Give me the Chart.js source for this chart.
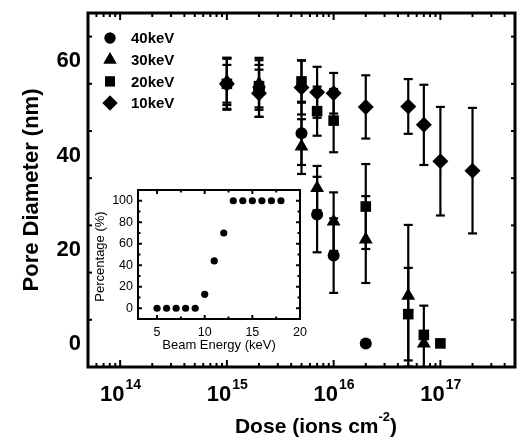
<!DOCTYPE html>
<html>
<head>
<meta charset="utf-8">
<script src="https://cdn.jsdelivr.net/npm/chart.js@4.4.0/dist/chart.umd.min.js"></script>
<style>
  html, body { margin: 0; padding: 0; background: #fff; }
  #wrap { position: relative; width: 523px; height: 440px; }
  #main { position: absolute; left: 0; top: 0; }
  #inset { position: absolute; left: 85px; top: 182px; }
</style>
</head>
<body>
<div id="wrap">
  <canvas id="main" width="523" height="440"></canvas>
  <canvas id="inset" width="222" height="170"></canvas>
</div>
<script>
// pore diameter (nm) vs dose, one set per beam energy
const doses40 = [1e15, 2e15, 5e15, 7e15, 1e16, 2e16];
const pore40 = [55, 54, 44.5, 27.3, 18.6, 0];
const err40 = [5.5, 6, 6.7, 8, 7.9, 0];

const doses30 = [1e15, 2e15, 5e15, 7e15, 1e16, 2e16, 5e16, 7e16];
const pore30 = [55.5, 55, 41.7, 32.9, 25.8, 22, 10.1, 0];
const err30 = [5, 5.5, 5.8, 4.7, 6.2, 9.2, 15, 8];

const doses20 = [1e15, 2e15, 5e15, 7e15, 1e16, 2e16, 5e16, 7e16, 1e17];
const pore20 = [55, 54.5, 55.5, 49.2, 47.2, 29, 6.2, 1.8, 0];
const err20 = [5.3, 4.5, 4.5, 5.2, 6.7, 9, 9.8, 0, 0];

const doses10 = [1e15, 2e15, 5e15, 7e15, 1e16, 2e16, 5e16, 7e16, 1e17, 2e17];
const pore10 = [55, 53, 54.2, 53.2, 53, 50.1, 50.2, 46.3, 38.6, 36.6];
const err10 = [4, 5, 5.7, 5.4, 4.3, 6.7, 5.8, 8.5, 11.5, 13.3];

const seriesLabels = ['40keV', '30keV', '20keV', '10keV'];
const yTickLabels = [0, 20, 40, 60];
const xTickPowers = [14, 15, 16, 17];

// inset: percentage vs beam energy
const insetEnergy = [5, 6, 7, 8, 9, 10, 11, 12, 13, 14, 15, 16, 17, 18];
const insetPercent = [0, 0, 0, 0, 0, 13, 44, 70, 100, 100, 100, 100, 100, 100];
const insetXTicks = [5, 10, 15, 20];
const insetYTicks = [0, 20, 40, 60, 80, 100];

const FONT = '"Liberation Sans", Arial, sans-serif';
const errorSets = [err40, err30, err20, err10];
const pts = (xs, ys) => xs.map((x, i) => ({ x: x, y: ys[i] }));

function seg(ctx, x1, y1, x2, y2) {
    ctx.beginPath();
    ctx.moveTo(x1, y1);
    ctx.lineTo(x2, y2);
    ctx.stroke();
}

// vertical error bars with caps, drawn under the markers
const errorBars = {
    id: 'errorBars',
    beforeDatasetsDraw(chart) {
        const { ctx, chartArea, scales: { x, y } } = chart;
        ctx.save();
        ctx.beginPath();
        ctx.rect(chartArea.left, chartArea.top, chartArea.right - chartArea.left, chartArea.bottom - chartArea.top);
        ctx.clip();
        ctx.strokeStyle = '#000';
        ctx.lineWidth = 2.2;
        chart.data.datasets.forEach((ds, i) => {
            ds.data.forEach((p, j) => {
                const e = errorSets[i][j];
                if (!e) return;
                const px = x.getPixelForValue(p.x);
                const top = y.getPixelForValue(p.y + e);
                const bot = y.getPixelForValue(p.y - e);
                seg(ctx, px, top, px, bot);
                seg(ctx, px - 4.5, top, px + 4.5, top);
                seg(ctx, px - 4.5, bot, px + 4.5, bot);
            });
        });
        ctx.restore();
    }
};

// frame, inward ticks, labels, titles, legend
const mainFrame = {
    id: 'mainFrame',
    afterDraw(chart) {
        const { ctx, chartArea: a, scales: { x, y } } = chart;
        ctx.save();
        ctx.strokeStyle = '#000';
        ctx.fillStyle = '#000';

        // ticks
        ctx.lineWidth = 2;
        for (let v = -5; v <= 70; v += 10) {
            const major = v % 20 === 0;
            const py = y.getPixelForValue(v);
            const len = major ? 7 : 4;
            seg(ctx, a.left, py, a.left + len, py);
            seg(ctx, a.right, py, a.right - len, py);
        }
        for (let n = 13; n <= 17; n++) {
            for (let m = 1; m <= 9; m++) {
                const v = m * Math.pow(10, n);
                if (v < x.min || v > x.max) continue;
                const px = x.getPixelForValue(v);
                const len = m === 1 ? 7 : 4;
                seg(ctx, px, a.bottom, px, a.bottom - len);
                seg(ctx, px, a.top, px, a.top + len);
            }
        }

        // frame
        ctx.lineWidth = 3;
        ctx.strokeRect(a.left, a.top, a.right - a.left, a.bottom - a.top);

        // y tick labels
        ctx.font = 'bold 22px ' + FONT;
        ctx.textAlign = 'right';
        ctx.textBaseline = 'middle';
        yTickLabels.forEach(v => {
            ctx.fillText(String(v), a.left - 7, y.getPixelForValue(v) + 1);
        });

        // x tick labels 10^n
        ctx.textAlign = 'left';
        ctx.textBaseline = 'alphabetic';
        xTickPowers.forEach(p => {
            const px = x.getPixelForValue(Math.pow(10, p));
            ctx.font = 'bold 22px ' + FONT;
            const w1 = ctx.measureText('10').width;
            ctx.font = 'bold 14px ' + FONT;
            const w2 = ctx.measureText(String(p)).width;
            const start = px - (w1 + w2) / 2;
            ctx.font = 'bold 22px ' + FONT;
            ctx.fillText('10', start, 401);
            ctx.font = 'bold 14px ' + FONT;
            ctx.fillText(String(p), start + w1 + 1, 389);
        });

        // x title with superscript
        const parts = [['Dose (ions cm', 'bold 21px ', 433], ['-2', 'bold 13px ', 421], [')', 'bold 21px ', 433]];
        let total = 0;
        parts.forEach(pt => { ctx.font = pt[1] + FONT; total += ctx.measureText(pt[0]).width; });
        let cx = 316 - total / 2;
        parts.forEach(pt => {
            ctx.font = pt[1] + FONT;
            ctx.fillText(pt[0], cx, pt[2]);
            cx += ctx.measureText(pt[0]).width;
        });

        // y title
        ctx.save();
        ctx.translate(38, (a.top + a.bottom) / 2);
        ctx.rotate(-Math.PI / 2);
        ctx.textAlign = 'center';
        ctx.font = 'bold 22px ' + FONT;
        ctx.fillText('Pore Diameter (nm)', 0, 0);
        ctx.restore();

        // legend
        ctx.font = 'bold 15px ' + FONT;
        ctx.textAlign = 'left';
        ctx.textBaseline = 'middle';
        chart.data.datasets.forEach((ds, i) => {
            const ly = 38 + i * 21.7;
            Chart.helpers.drawPoint(ctx, {
                pointStyle: ds.pointStyle, radius: ds.pointRadius - 0.5, borderWidth: 0
            }, 110, ly);
            ctx.fill();
            ctx.fillText(seriesLabels[i], 131, ly + 1);
        });
        ctx.restore();
    }
};

const markers = [['circle', 6], ['triangle', 8], ['rect', 7.5], ['rectRot', 8]];
const mainSets = [pts(doses40, pore40), pts(doses30, pore30), pts(doses20, pore20), pts(doses10, pore10)];

new Chart(document.getElementById('main'), {
    type: 'scatter',
    data: {
        datasets: mainSets.map((d, i) => ({
            label: seriesLabels[i],
            data: d,
            pointStyle: markers[i][0],
            pointRadius: markers[i][1],
            pointHoverRadius: markers[i][1],
            backgroundColor: '#000',
            borderColor: '#000',
            borderWidth: 0
        }))
    },
    options: {
        responsive: false,
        animation: false,
        layout: { padding: { left: 88, right: 1, top: 13, bottom: 73 } },
        scales: {
            x: { type: 'logarithmic', min: 5e13, max: 5e17, display: false },
            y: { type: 'linear', min: -5, max: 70, display: false }
        },
        plugins: { legend: { display: false }, tooltip: { enabled: false } }
    },
    plugins: [errorBars, mainFrame]
});

// inset frame and labels
const insetFrame = {
    id: 'insetFrame',
    afterDraw(chart) {
        const { ctx, chartArea: a, scales: { x, y } } = chart;
        ctx.save();
        ctx.strokeStyle = '#000';
        ctx.fillStyle = '#000';
        ctx.lineWidth = 2;
        for (let v = 0; v <= 110; v += 10) {
            const py = y.getPixelForValue(v);
            const len = v % 20 === 0 ? 4 : 2.5;
            seg(ctx, a.left, py, a.left + len, py);
            seg(ctx, a.right, py, a.right - len, py);
        }
        for (let v = 5; v <= 20; v += 2.5) {
            const px = x.getPixelForValue(v);
            const len = v % 5 === 0 ? 4 : 2.5;
            seg(ctx, px, a.bottom, px, a.bottom - len);
            seg(ctx, px, a.top, px, a.top + len);
        }
        ctx.strokeRect(a.left, a.top, a.right - a.left, a.bottom - a.top);

        ctx.font = '12.5px ' + FONT;
        ctx.textAlign = 'right';
        ctx.textBaseline = 'middle';
        insetYTicks.forEach(v => ctx.fillText(String(v), a.left - 5, y.getPixelForValue(v)));
        ctx.textAlign = 'center';
        ctx.textBaseline = 'alphabetic';
        insetXTicks.forEach(v => ctx.fillText(String(v), x.getPixelForValue(v), a.bottom + 17));
        ctx.font = '13px ' + FONT;
        ctx.fillText('Beam Energy (keV)', (a.left + a.right) / 2, a.bottom + 30);
        ctx.save();
        ctx.translate(a.left - 34, (a.top + a.bottom) / 2 + 2);
        ctx.rotate(-Math.PI / 2);
        ctx.fillText('Percentage (%)', 0, 0);
        ctx.restore();
        ctx.restore();
    }
};

new Chart(document.getElementById('inset'), {
    type: 'scatter',
    data: {
        datasets: [{
            label: 'Percentage',
            data: pts(insetEnergy, insetPercent),
            pointStyle: 'circle',
            pointRadius: 3.6,
            pointHoverRadius: 3.6,
            backgroundColor: '#000',
            borderColor: '#000',
            borderWidth: 0
        }]
    },
    options: {
        responsive: false,
        animation: false,
        layout: { padding: { left: 53, right: 7, top: 8, bottom: 33 } },
        scales: {
            x: { type: 'linear', min: 3, max: 20, display: false },
            y: { type: 'linear', min: -10, max: 110, display: false }
        },
        plugins: { legend: { display: false }, tooltip: { enabled: false } }
    },
    plugins: [insetFrame]
});
</script>
</body>
</html>
